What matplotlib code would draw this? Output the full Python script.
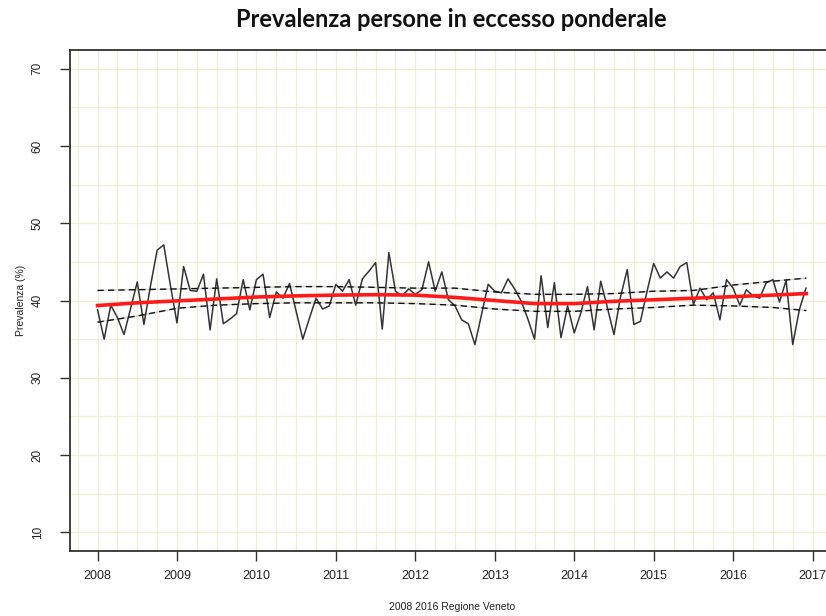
#!/usr/bin/env python3
"""
Prevalenza persone in eccesso ponderale, Regione Veneto 2008-2016.
Monthly series with smoothed trend and confidence band.
"""

import numpy as np
import matplotlib
matplotlib.use("Agg")
import matplotlib.pyplot as plt
from matplotlib.ticker import MultipleLocator


# --- Data ---

START_YEAR = 2008

# monthly prevalence (%), Jan 2008 -> Dec 2016
prevalenza = [
    38.8, 35.0, 39.4, 37.8, 35.6, 39.0, 42.4, 36.9, 41.9, 46.5, 47.2, 42.0,
    37.1, 44.4, 41.3, 41.2, 43.4, 36.2, 42.8, 37.0, 37.6, 38.3, 42.7, 38.8,
    42.7, 43.4, 37.8, 41.1, 40.3, 42.2, 38.6, 35.0, 37.7, 40.3, 38.9, 39.3,
    42.1, 41.2, 42.7, 39.4, 42.8, 43.8, 44.9, 36.3, 46.2, 41.2, 40.6, 41.5,
    40.8, 41.4, 45.0, 41.2, 43.7, 40.1, 39.3, 37.5, 37.0, 34.3, 38.2, 42.1,
    41.2, 41.0, 42.8, 41.5, 39.9, 37.6, 35.0, 43.2, 36.5, 42.3, 35.2, 39.3,
    35.8, 38.4, 41.8, 36.2, 42.5, 39.1, 35.6, 40.5, 44.0, 36.9, 37.3, 41.2,
    44.8, 42.9, 43.7, 42.9, 44.4, 44.9, 39.5, 41.6, 40.1, 41.0, 37.5, 42.7,
    41.6, 39.4, 41.4, 40.6, 40.3, 42.3, 42.7, 39.8, 42.6, 34.3, 38.8, 41.6,
]

# trend and band, read every half year
knot_years = [
    2008.0, 2008.5, 2009.0, 2009.5, 2010.0, 2010.5, 2011.0, 2011.5, 2012.0,
    2012.5, 2013.0, 2013.5, 2014.0, 2014.5, 2015.0, 2015.5, 2016.0, 2016.5,
    2016.92,
]
trend = [
    39.35, 39.7, 39.95, 40.2, 40.45, 40.6, 40.7, 40.75, 40.7,
    40.4, 40.0, 39.6, 39.6, 39.9, 40.1, 40.3, 40.5, 40.7, 40.9,
]
upper = [
    41.3, 41.4, 41.5, 41.6, 41.7, 41.8, 41.8, 41.7, 41.6,
    41.6, 41.1, 40.8, 40.8, 40.9, 41.2, 41.3, 42.0, 42.5, 42.9,
]
lower = [
    37.2, 38.0, 39.0, 39.4, 39.6, 39.7, 39.7, 39.7, 39.6,
    39.4, 38.9, 38.6, 38.6, 38.9, 39.1, 39.4, 39.3, 39.1, 38.7,
]

x_ticks = list(range(2008, 2018))
y_ticks = [10, 20, 30, 40, 50, 60, 70]

TITLE = "Prevalenza persone in eccesso ponderale"
X_LABEL = "2008 2016 Regione Veneto"
Y_LABEL = "Prevalenza (%)"


# --- Chart ---

def make_chart(output_path: str) -> None:
    fig = plt.figure(figsize=(8.26, 6.16), dpi=100)
    ax = fig.add_axes([0.0847, 0.1055, 0.926, 0.8133])

    months = START_YEAR + np.arange(len(prevalenza)) / 12.0

    # background grid (quarterly / every 5 points)
    ax.xaxis.set_minor_locator(MultipleLocator(0.25))
    ax.yaxis.set_minor_locator(MultipleLocator(5))
    ax.grid(which="both", color="#f0efd6", linewidth=0.9)
    ax.tick_params(which="minor", length=0)
    ax.set_axisbelow(True)

    ax.plot(months, prevalenza, color="#333333", linewidth=1.1, zorder=3)

    for band in (upper, lower):
        ax.plot(knot_years, band, color="#d2d2d2", linewidth=1.0, zorder=2)
        ax.plot(knot_years, band, color="#111111", linewidth=1.0,
                linestyle=(0, (4.5, 3)), zorder=4)

    ax.plot(knot_years, trend, color="#ff1a1a", linewidth=2.6, zorder=5)

    ax.set_xlim(2008 - 0.347, 2017.28)
    ax.set_ylim(7.6, 72.4)
    ax.set_xticks(x_ticks)
    ax.set_yticks(y_ticks)
    ax.set_xticklabels([str(y) for y in x_ticks], family="Liberation Sans",
                       fontsize=9, color="#222222")
    ax.set_yticklabels([str(v) for v in y_ticks], family="Liberation Sans",
                       fontsize=8.5, rotation=90, va="center", color="#222222")
    ax.tick_params(axis="x", which="major", length=7, width=1.0,
                   color="#333333", pad=7)
    ax.tick_params(axis="y", which="major", length=7, width=1.0,
                   color="#333333", pad=12)

    for side in ("left", "bottom", "top"):
        ax.spines[side].set_color("#333333")
        ax.spines[side].set_linewidth(1.3)
    ax.spines["right"].set_visible(False)

    ax.set_xlabel(X_LABEL, family="Liberation Sans", fontsize=7.5,
                  color="#222222", labelpad=14)
    ax.set_ylabel(Y_LABEL, family="Liberation Sans", fontsize=7.5,
                  color="#222222", labelpad=4)

    fig.text(0.546, 0.968, TITLE, family="Lato", fontweight="bold",
             fontsize=17, ha="center", va="center", color="#111111")

    fig.savefig(output_path, dpi=100)
    plt.close(fig)


def main():
    make_chart("out.png")


if __name__ == "__main__":
    main()
